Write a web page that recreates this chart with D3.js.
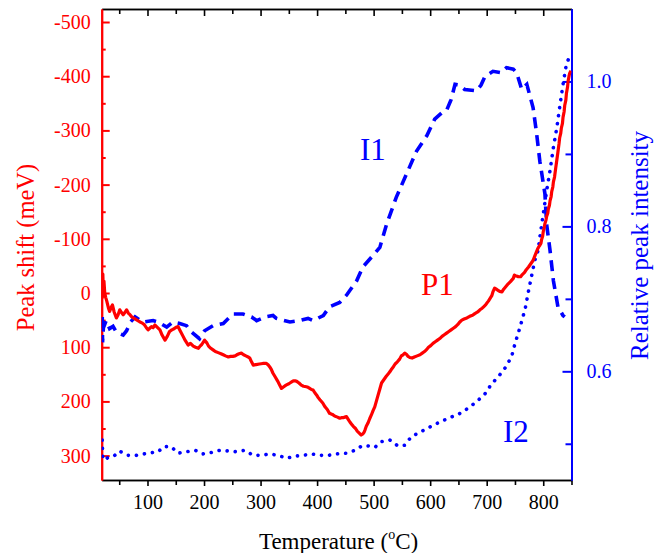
<!DOCTYPE html>
<html>
<head>
<meta charset="utf-8">
<script src="https://cdn.jsdelivr.net/npm/d3@7"></script>
<style>
  body { margin: 0; background: #fff; }
  svg { display: block; }
  svg text { font-family: "Liberation Serif", "Times New Roman", Times, "DejaVu Serif", serif; }
</style>
</head>
<body>
<svg id="chart" width="662" height="553"></svg>
<script>
// Axis ticks
const temperatureTicks = [100, 200, 300, 400, 500, 600, 700, 800];
const temperatureMinor = [50, 150, 250, 350, 450, 550, 650, 750, 850];
const shiftTicks = [-500, -400, -300, -200, -100, 0, 100, 200, 300];
const shiftMinor = [-450, -350, -250, -150, -50, 50, 150, 250];
const intensityTicks = [0.6, 0.8, 1.0];
const intensityMinor = [0.5, 0.7, 0.9];

// P1: peak shift (meV) vs temperature
const p1Temp = [20, 21, 22, 23, 24.4, 26, 28, 31, 33, 36, 38, 41, 45, 48, 51, 54, 57, 60, 63, 66, 69, 72, 75, 80, 86, 90, 94, 98, 101, 104, 107, 110, 113, 117, 122, 126, 131, 135, 139, 143, 147, 151, 154, 158, 163, 167, 172, 176, 181, 185, 190, 193, 196, 199, 201, 205, 208, 212, 216, 220, 225, 230, 234, 238, 243, 247, 251, 255, 258, 262, 266, 270, 274, 278, 281, 284, 287, 292, 298, 304, 310, 313, 316, 319, 322, 326, 330, 334, 337, 341, 345, 349, 352, 355, 358, 361, 364, 368, 372, 376, 381, 384, 387, 390, 393, 396, 399, 402, 405, 410, 414, 418, 422, 427, 431, 436, 440, 443, 446, 449, 452, 455, 458, 461, 464, 468, 471, 475, 478, 481, 483, 485, 487, 490, 493, 496, 499, 502, 505, 508, 511, 514, 518, 522, 526, 529, 532, 535, 538, 542, 546, 549, 552, 555, 558, 561, 564, 568, 572, 577, 582, 586, 590, 594, 597, 601, 605, 609, 613, 617, 621, 625, 629, 633, 637, 641, 645, 649, 652, 656, 660, 665, 670, 675, 679, 684, 688, 692, 695, 698, 700, 703, 706, 709, 711, 714, 717, 720, 723, 727, 730, 734, 738, 742, 747, 749, 751, 754, 756, 760, 763, 767, 770, 774, 778, 782, 785, 788, 790, 792, 794, 796, 797, 799, 800, 802, 803, 805, 806, 808, 809, 811, 812, 814, 815, 817, 818, 820, 822, 824, 826, 828, 829, 831, 832, 834, 835, 837, 838, 840, 841, 843, 844, 846, 847, 849];
const p1Shift = [10, -35, 0, -22, 0, 8, 15, 28, 34, 26, 22, 35, 46, 40, 31, 36, 40, 36, 31, 37, 40, 44, 46, 49, 53, 55, 58, 64, 68, 65, 62, 64, 59, 63, 68, 78, 87, 80, 71, 68, 66, 63, 62, 70, 80, 88, 96, 93, 98, 100, 102, 98, 95, 90, 87, 92, 98, 102, 105, 108, 110, 112, 114, 116, 118, 117, 117, 116, 114, 112, 111, 114, 116, 118, 120, 127, 133, 132, 131, 130, 130, 132, 136, 141, 148, 155, 162, 170, 176, 173, 170, 168, 166, 164, 162, 162, 163, 166, 170, 172, 173, 174, 176, 178, 179, 184, 188, 193, 197, 203, 210, 215, 222, 224, 227, 229, 231, 230, 230, 229, 228, 233, 238, 242, 246, 250, 255, 259, 262, 260, 257, 252, 246, 240, 232, 225, 217, 210, 199, 188, 177, 166, 160, 154, 149, 145, 140, 136, 131, 127, 122, 116, 114, 111, 113, 117, 119, 120, 118, 116, 114, 111, 108, 104, 100, 97, 93, 90, 87, 84, 80, 77, 74, 71, 68, 65, 62, 58, 54, 50, 48, 46, 43, 41, 38, 35, 31, 28, 25, 22, 19, 15, 10, 5, -2, -9, -7, -5, -3, -2, -7, -12, -17, -21, -27, -33, -32, -31, -30, -30, -34, -38, -43, -48, -54, -60, -68, -76, -81, -85, -88, -92, -98, -105, -113, -122, -128, -135, -141, -147, -155, -162, -170, -178, -187, -196, -205, -214, -230, -245, -260, -276, -286, -295, -304, -313, -324, -335, -346, -356, -368, -380, -391, -402, -406, -410, -411];

// I1: relative peak intensity (dashed)
const i1Temp = [20, 20.5, 22, 27, 33, 39, 45, 57, 63, 70, 78, 92, 110, 119, 134, 145, 157, 169, 175, 192, 201, 216, 234, 251, 269, 284, 293, 308, 322, 328, 352, 369, 384, 393, 411, 422, 440, 452, 470, 481, 499, 511, 523, 540, 558, 576, 594, 608, 621, 629, 637, 644, 652, 661, 682, 690, 697, 711, 726, 735, 747, 753, 762, 771, 782, 788, 794, 803, 806, 812, 818, 826, 835, 838];
const i1Int = [0.675, 0.64, 0.66, 0.67, 0.659, 0.662, 0.654, 0.650, 0.656, 0.668, 0.675, 0.668, 0.670, 0.668, 0.661, 0.668, 0.666, 0.663, 0.656, 0.645, 0.656, 0.663, 0.666, 0.679, 0.679, 0.675, 0.670, 0.675, 0.677, 0.673, 0.668, 0.670, 0.673, 0.670, 0.677, 0.689, 0.695, 0.705, 0.725, 0.744, 0.760, 0.771, 0.803, 0.840, 0.872, 0.904, 0.925, 0.948, 0.957, 0.960, 0.975, 0.996, 0.995, 0.989, 0.987, 0.995, 1.007, 1.014, 1.012, 1.019, 1.017, 1.012, 0.989, 0.996, 0.964, 0.930, 0.890, 0.845, 0.803, 0.767, 0.725, 0.689, 0.677, 0.675];

// I2: relative peak intensity (dotted)
const i2Temp = [20, 21, 28, 36, 42, 50, 58, 66, 80, 101, 119, 128, 142, 154, 169, 184, 198, 213, 228, 243, 257, 272, 287, 302, 316, 331, 346, 361, 375, 390, 405, 420, 434, 452, 467, 479, 490, 502, 514, 529, 543, 555, 567, 582, 599, 617, 638, 653, 667, 682, 697, 709, 720, 732, 744, 750, 759, 768, 773, 779, 785, 791, 794, 800, 806, 812, 818, 824, 829, 835, 841, 849];
const i2Int = [0.505, 0.478, 0.480, 0.483, 0.484, 0.490, 0.487, 0.484, 0.484, 0.487, 0.489, 0.496, 0.496, 0.487, 0.489, 0.491, 0.486, 0.488, 0.491, 0.490, 0.489, 0.491, 0.484, 0.484, 0.486, 0.484, 0.480, 0.483, 0.484, 0.486, 0.484, 0.484, 0.486, 0.487, 0.491, 0.497, 0.497, 0.495, 0.503, 0.505, 0.497, 0.498, 0.510, 0.516, 0.523, 0.530, 0.537, 0.542, 0.549, 0.558, 0.569, 0.583, 0.592, 0.604, 0.620, 0.638, 0.661, 0.686, 0.707, 0.730, 0.753, 0.767, 0.785, 0.817, 0.849, 0.877, 0.909, 0.936, 0.964, 0.996, 1.024, 1.039];

const RED = "#ff0000";
const BLUE = "#0000ff";
const SERIF = "'Liberation Serif', 'Times New Roman', Times, 'DejaVu Serif', serif";

const svg = d3.select("#chart");
const plotLeft = 101.7, plotRight = 571.5, plotTop = 9, plotBottom = 480;

const x = d3.scaleLinear().domain([19, 850]).range([plotLeft, plotRight]);
const yShift = d3.scaleLinear().domain([345, -524]).range([plotBottom, plotTop]);
const yInt = d3.scaleLinear().domain([0.45, 1.1]).range([plotBottom, plotTop]);

svg.append("clipPath").attr("id", "plot-clip")
  .append("rect").attr("x", plotLeft).attr("y", plotTop)
  .attr("width", plotRight - plotLeft).attr("height", plotBottom - plotTop);

// Top and bottom frame (black)
const frame = svg.append("g").attr("class", "frame");
frame.append("g").attr("transform", `translate(0,${plotBottom})`)
  .call(d3.axisBottom(x).tickValues(temperatureTicks).tickSize(6).tickSizeOuter(0)
    .tickPadding(9).tickFormat(d3.format("d")));
frame.append("g").attr("transform", `translate(0,${plotBottom})`)
  .call(d3.axisBottom(x).tickValues(temperatureMinor).tickSize(5).tickSizeOuter(0).tickFormat(""));
frame.append("g").attr("transform", `translate(0,${plotTop})`)
  .call(d3.axisTop(x).tickValues(temperatureTicks).tickSize(-7).tickSizeOuter(0).tickFormat(""));
frame.append("g").attr("transform", `translate(0,${plotTop})`)
  .call(d3.axisTop(x).tickValues(temperatureMinor).tickSize(-5).tickSizeOuter(0).tickFormat(""));
frame.selectAll(".domain, .tick line").attr("stroke", "#000").attr("stroke-width", 1.6);
frame.selectAll(".tick text").attr("fill", "#000");

// Left axis (red, peak shift)
const leftAxis = svg.append("g").attr("class", "left-axis");
leftAxis.append("g").attr("transform", `translate(${plotLeft},0)`)
  .call(d3.axisLeft(yShift).tickValues(shiftTicks).tickSize(-8).tickSizeOuter(0)
    .tickPadding(11).tickFormat(d => String(d)));
leftAxis.append("g").attr("transform", `translate(${plotLeft},0)`)
  .call(d3.axisLeft(yShift).tickValues(shiftMinor).tickSize(-4).tickSizeOuter(0).tickFormat(""));
leftAxis.selectAll(".domain, .tick line").attr("stroke", RED).attr("stroke-width", 2);
leftAxis.selectAll(".tick text").attr("fill", RED);

// Right axis (blue, relative intensity)
const rightAxis = svg.append("g").attr("class", "right-axis");
rightAxis.append("g").attr("transform", `translate(${plotRight},0)`)
  .call(d3.axisRight(yInt).tickValues(intensityTicks).tickSize(-9).tickSizeOuter(0)
    .tickPadding(15).tickFormat(d3.format(".1f")));
rightAxis.append("g").attr("transform", `translate(${plotRight},0)`)
  .call(d3.axisRight(yInt).tickValues(intensityMinor).tickSize(-6).tickSizeOuter(0).tickFormat(""));
rightAxis.selectAll(".domain, .tick line").attr("stroke", BLUE).attr("stroke-width", 2);
rightAxis.selectAll(".tick text").attr("fill", BLUE);

svg.selectAll("g").attr("font-family", SERIF);
svg.selectAll(".tick text").attr("font-size", 20).attr("font-family", SERIF);

// Curves
const plot = svg.append("g").attr("clip-path", "url(#plot-clip)");

const i1Line = d3.line().x((d, i) => x(i1Temp[i])).y(d => yInt(d));
plot.append("path").datum(i1Int).attr("d", i1Line)
  .attr("fill", "none").attr("stroke", BLUE).attr("stroke-width", 3.6)
  .attr("stroke-dasharray", "11 7");

const i2Line = d3.line().x((d, i) => x(i2Temp[i])).y(d => yInt(d));
plot.append("path").datum(i2Int).attr("d", i2Line)
  .attr("fill", "none").attr("stroke", BLUE).attr("stroke-width", 3.6)
  .attr("stroke-linecap", "round").attr("stroke-dasharray", "0.1 8");

const p1Line = d3.line().x((d, i) => x(p1Temp[i])).y(d => yShift(d));
plot.append("path").datum(p1Shift).attr("d", p1Line)
  .attr("fill", "none").attr("stroke", RED).attr("stroke-width", 3.2)
  .attr("stroke-linejoin", "round");

// Axis titles
svg.append("text")
  .attr("transform", `translate(34,${(plotTop + plotBottom) / 2 + 3}) rotate(-90)`)
  .attr("text-anchor", "middle").attr("font-size", 24.5).attr("fill", RED)
  .attr("font-family", SERIF)
  .text("Peak shift (meV)");

svg.append("text")
  .attr("transform", `translate(648,${(plotTop + plotBottom) / 2 + 1}) rotate(-90)`)
  .attr("text-anchor", "middle").attr("font-size", 25).attr("fill", BLUE)
  .attr("font-family", SERIF)
  .text("Relative peak intensity");

const xt = svg.append("text").attr("x", (plotLeft + plotRight) / 2 + 2).attr("y", 549)
  .attr("text-anchor", "middle").attr("font-size", 23).attr("fill", "#000")
  .attr("font-family", SERIF);
xt.append("tspan").text("Temperature (");
xt.append("tspan").attr("dy", -10).attr("font-size", 14).text("o");
xt.append("tspan").attr("dy", 10).text("C)");

// Curve labels
const curveLabel = (label, tx, ty, color) =>
  svg.append("text").attr("x", tx).attr("y", ty).attr("font-size", 31)
    .attr("font-family", SERIF).attr("fill", color).text(label);
curveLabel("I1", 360, 160, BLUE);
curveLabel("P1", 421, 295, RED);
curveLabel("I2", 503, 442, BLUE);
</script>
</body>
</html>
